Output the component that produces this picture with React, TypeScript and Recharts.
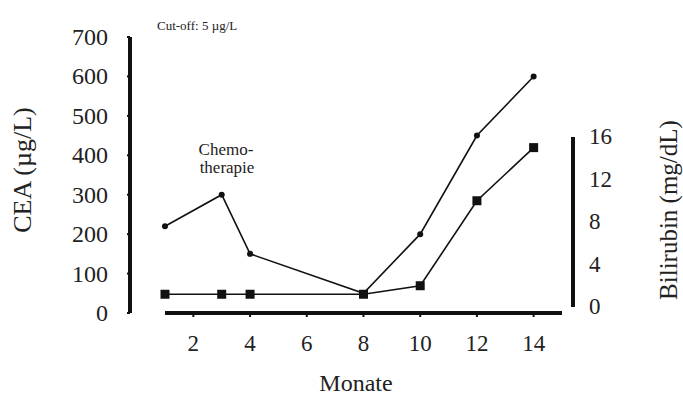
import React from "react";
import { LineChart, Line, XAxis, YAxis, ReferenceLine } from "recharts";

const months = [1, 3, 4, 8, 10, 12, 14];
const ceaValues = [220, 300, 150, 50, 200, 450, 600];
const bilirubinValues = [1.2, 1.2, 1.2, 1.2, 2, 10, 15];
const monthTicks = [2, 4, 6, 8, 10, 12, 14];
const ceaTicks = [0, 100, 200, 300, 400, 500, 600, 700];
const bilirubinTicks = [0, 4, 8, 12, 16];

const data = months.map((m, i) => ({
  month: m,
  cea: ceaValues[i],
  bilirubin: bilirubinValues[i],
}));

const FONT = '"Liberation Serif", "Times New Roman", serif';
const INK = "#111";
const TEXT = "#222";

function SquareDot(props: any) {
  const { cx, cy, index } = props;
  if (cx == null || cy == null) return <g key={index} />;
  return <rect key={index} x={cx - 4.5} y={cy - 4.5} width={9} height={9} fill={INK} />;
}

// ticks drawn by hand so the serif font sticks
function XTick(props: any) {
  const { x, y, payload } = props;
  return (
    <text x={x} y={y + 12} fontSize={23} fill={TEXT} fontFamily={FONT} textAnchor="middle">
      {payload.value}
    </text>
  );
}

function LeftTick(props: any) {
  const { x, y, payload } = props;
  return (
    <text x={x} y={y} fontSize={24} fill={TEXT} fontFamily={FONT} textAnchor="end" dominantBaseline="central">
      {payload.value}
    </text>
  );
}

function RightTick(props: any) {
  const { x, y, payload } = props;
  return (
    <text x={x} y={y} fontSize={23} fill={TEXT} fontFamily={FONT} textAnchor="start" dominantBaseline="central">
      {payload.value}
    </text>
  );
}

export default function App() {
  return (
    <div style={{ position: "absolute", left: 0, top: 0, background: "#fff", fontFamily: FONT }}>
      <LineChart
        width={683}
        height={396}
        data={data}
        margin={{ top: 37, right: 50, bottom: 43, left: 70 }}
      >
        <XAxis
          dataKey="month"
          type="number"
          domain={[-0.234, 15.388]}
          allowDataOverflow
          ticks={monthTicks}
          height={40}
          axisLine={false}
          tickLine={{ stroke: INK, strokeWidth: 2 }}
          tickSize={4}
          tickMargin={22}
          tick={XTick}
        />
        <YAxis
          yAxisId="left"
          domain={[0, 700]}
          ticks={ceaTicks}
          width={60}
          axisLine={{ stroke: INK, strokeWidth: 4 }}
          tickLine={{ stroke: INK, strokeWidth: 2 }}
          tickSize={3}
          tickMargin={19}
          tick={LeftTick}
        />
        <YAxis
          yAxisId="right"
          orientation="right"
          domain={[-0.565, 25.41]}
          allowDataOverflow
          ticks={bilirubinTicks}
          width={60}
          axisLine={false}
          tickLine={false}
          tickSize={0}
          tickMargin={16}
          tick={RightTick}
        />
        <ReferenceLine
          yAxisId="left"
          segment={[
            { x: 1, y: 0 },
            { x: 15, y: 0 },
          ]}
          stroke={INK}
          strokeWidth={4}
          ifOverflow="visible"
        />
        <ReferenceLine
          yAxisId="right"
          segment={[
            { x: 15.388, y: 0 },
            { x: 15.388, y: 16 },
          ]}
          stroke={INK}
          strokeWidth={4}
          ifOverflow="visible"
        />
        <Line
          yAxisId="left"
          dataKey="cea"
          stroke={INK}
          strokeWidth={1.6}
          dot={{ r: 3, fill: INK, stroke: INK, strokeWidth: 0 }}
          isAnimationActive={false}
        />
        <Line
          yAxisId="right"
          dataKey="bilirubin"
          stroke={INK}
          strokeWidth={1.6}
          dot={SquareDot}
          isAnimationActive={false}
        />
        <text x={157} y={30} fontSize={13} fill={TEXT} fontFamily={FONT}>
          Cut-off: 5 µg/L
        </text>
        <text x={226} y={155} fontSize={17} fill={TEXT} fontFamily={FONT} textAnchor="middle">
          Chemo-
        </text>
        <text x={227} y={173} fontSize={17} fill={TEXT} fontFamily={FONT} textAnchor="middle">
          therapie
        </text>
        <text
          x={22}
          y={170}
          fontSize={26}
          fill={TEXT}
          fontFamily={FONT}
          textAnchor="middle"
          dominantBaseline="central"
          transform="rotate(-90 22 170)"
        >
          CEA (µg/L)
        </text>
        <text
          x={668}
          y={210}
          fontSize={25}
          fill={TEXT}
          fontFamily={FONT}
          textAnchor="middle"
          dominantBaseline="central"
          transform="rotate(-90 668 210)"
        >
          Bilirubin (mg/dL)
        </text>
        <text
          x={356}
          y={383}
          fontSize={24}
          fill={TEXT}
          fontFamily={FONT}
          textAnchor="middle"
          dominantBaseline="central"
        >
          Monate
        </text>
      </LineChart>
    </div>
  );
}
